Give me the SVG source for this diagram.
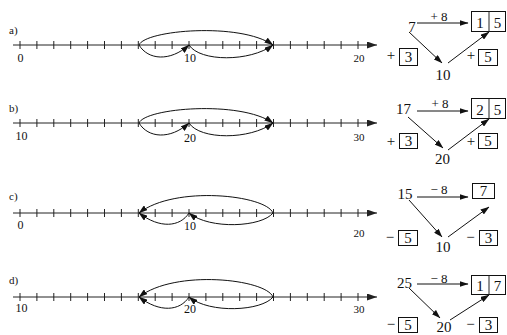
<svg xmlns="http://www.w3.org/2000/svg" width="507" height="335" viewBox="0 0 507 335">
<style>
text{font-family:"Liberation Serif","Times New Roman",serif;fill:#111}
.lab{font-size:11px}
.num{font-size:12px;text-anchor:middle}
.end{font-size:11px;text-anchor:middle}
.big{font-size:15px;text-anchor:middle}
.op{font-size:13px;text-anchor:middle}
.ax{stroke:#222;stroke-width:1;fill:none}
.tk{stroke:#222;stroke-width:1}
.arc{stroke:#111;stroke-width:1;fill:none;marker-end:url(#ah)}
.ln{stroke:#111;stroke-width:1;fill:none;marker-end:url(#ah2)}
.bx{fill:#fff;stroke:#111;stroke-width:1}
</style>
<defs>
<marker id="ah" viewBox="0 0 9 6" refX="8.5" refY="3" markerWidth="9" markerHeight="6" markerUnits="userSpaceOnUse" orient="auto"><path d="M0,0 L9,3 L0,6 z" fill="#111"/></marker>
<marker id="ah2" viewBox="0 0 9 6" refX="8.5" refY="3" markerWidth="9" markerHeight="6" markerUnits="userSpaceOnUse" orient="auto"><path d="M0,0 L9,3 L0,6 z" fill="#111"/></marker>
<marker id="axh" viewBox="0 0 10 7" refX="10" refY="3.5" markerWidth="10" markerHeight="7" markerUnits="userSpaceOnUse" orient="auto"><path d="M0,0 L10,3.5 L0,7 z" fill="#222"/></marker>
<g id="ticks">
<path class="tk" d="M20,-4V4M36.9,-4V4M53.8,-4V4M70.7,-4V4M87.6,-4V4M104.5,-4V4M121.4,-4V4M138.3,-4V4M155.2,-4V4M172.1,-4V4M189,-4V4M205.9,-4V4M222.8,-4V4M239.7,-4V4M256.6,-4V4M273.5,-4V4M290.4,-4V4M307.3,-4V4M324.2,-4V4M341.1,-4V4M358,-4V4"/>
<path class="ax" d="M13,0H377" marker-end="url(#axh)"/>
</g>
</defs>

<g id="row-a">
<text class="lab" x="9" y="34">a)</text>
<use href="#ticks" transform="translate(0,45)"/>
<text class="num" x="20.5" y="62">0</text>
<text class="num" x="190" y="62">10</text>
<text class="end" x="359" y="62">20</text>
</g>
<g id="row-b">
<text class="lab" x="9" y="112">b)</text>
<use href="#ticks" transform="translate(0,123)"/>
<text class="num" x="21.5" y="140">10</text>
<text class="num" x="190" y="142">20</text>
<text class="end" x="359" y="141">30</text>
</g>
<g id="row-c">
<text class="lab" x="9" y="200">c)</text>
<use href="#ticks" transform="translate(0,213)"/>
<text class="num" x="20.5" y="229">0</text>
<text class="num" x="190" y="230">10</text>
<text class="end" x="359" y="237">20</text>
</g>
<g id="row-d">
<text class="lab" x="9" y="284">d)</text>
<use href="#ticks" transform="translate(0,297)"/>
<text class="num" x="21.5" y="312">10</text>
<text class="num" x="190" y="313">20</text>
<text class="end" x="359" y="313">30</text>
</g>

<g id="connectors">
<path class="arc" d="M139,45 C145,30 240,22 273,45"/>
<path class="arc" d="M139,45 C148,60 170,62 189,45"/>
<path class="arc" d="M189,45 C200,62 250,62 273,45"/>
<path class="arc" d="M139,123 C145,108 240,100 273,123"/>
<path class="arc" d="M139,123 C148,138 170,140 189,123"/>
<path class="arc" d="M189,123 C200,140 250,140 273,123"/>
<path class="arc" d="M273,213 C266,195 175,185 139,213"/>
<path class="arc" d="M273,213 C262,227 210,230 189,213"/>
<path class="arc" d="M189,213 C180,227 160,229 139,213"/>
<path class="arc" d="M273,297 C266,279 175,269 139,297"/>
<path class="arc" d="M273,297 C262,311 210,314 189,297"/>
<path class="arc" d="M189,297 C180,311 160,313 139,297"/>
<path class="ln" d="M417,23H468"/>
<path class="ln" d="M409,32L442,63"/>
<path class="ln" d="M448,63L489,32"/>
<path class="ln" d="M417,111H468"/>
<path class="ln" d="M408,117L443,148"/>
<path class="ln" d="M448,150L489,119"/>
<path class="ln" d="M417,197H468"/>
<path class="ln" d="M409,200L442,237"/>
<path class="ln" d="M448,237L489,207"/>
<path class="ln" d="M417,284H468"/>
<path class="ln" d="M409,288L440,318"/>
<path class="ln" d="M450,320L489,295"/>
</g>

<g id="calc-a">
<text class="big" x="412" y="32">7</text>
<text class="op" x="439" y="21">+ 8</text>
<rect class="bx" x="471.5" y="11.5" width="34" height="20"/>
<line class="tk" x1="489" y1="11.5" x2="489" y2="31.5"/>
<text class="big" x="480" y="28">1</text>
<text class="big" x="497.5" y="28">5</text>
<text class="big" x="443" y="80">10</text>
<text class="big" x="391" y="60">+</text>
<rect class="bx" x="399.5" y="48.5" width="18" height="17"/>
<text class="big" x="408.5" y="62">3</text>
<text class="big" x="471" y="60">+</text>
<rect class="bx" x="478.5" y="49.5" width="19" height="16"/>
<text class="big" x="488" y="62">5</text>
</g>
<g id="calc-b">
<text class="big" x="403.5" y="114">17</text>
<text class="op" x="440" y="108">+ 8</text>
<rect class="bx" x="471.5" y="98.5" width="34" height="20"/>
<line class="tk" x1="489" y1="98.5" x2="489" y2="118.5"/>
<text class="big" x="480" y="115">2</text>
<text class="big" x="497.5" y="115">5</text>
<text class="big" x="442.5" y="164">20</text>
<text class="big" x="391" y="146">+</text>
<rect class="bx" x="399.5" y="133.5" width="18" height="15"/>
<text class="big" x="408.5" y="146">3</text>
<text class="big" x="471" y="146">+</text>
<rect class="bx" x="478.5" y="133.5" width="19" height="15"/>
<text class="big" x="488" y="146">5</text>
</g>
<g id="calc-c">
<text class="big" x="405" y="199">15</text>
<text class="op" x="439" y="194">− 8</text>
<rect class="bx" x="472.5" y="183.5" width="22" height="15"/>
<text class="big" x="483.5" y="196">7</text>
<text class="big" x="443" y="252">10</text>
<text class="big" x="390" y="242">−</text>
<rect class="bx" x="398.5" y="230.5" width="19" height="15"/>
<text class="big" x="408" y="243">5</text>
<text class="big" x="470.5" y="242">−</text>
<rect class="bx" x="479.5" y="230.5" width="18" height="15"/>
<text class="big" x="488.5" y="243">3</text>
</g>
<g id="calc-d">
<text class="big" x="404.5" y="288">25</text>
<text class="op" x="439" y="283">− 8</text>
<rect class="bx" x="471.5" y="275.5" width="34" height="19"/>
<line class="tk" x1="489" y1="275.5" x2="489" y2="294.5"/>
<text class="big" x="480" y="291">1</text>
<text class="big" x="497.5" y="291">7</text>
<text class="big" x="444" y="332">20</text>
<text class="big" x="391" y="329">−</text>
<rect class="bx" x="398.5" y="317.5" width="19" height="15"/>
<text class="big" x="408" y="330">5</text>
<text class="big" x="470.5" y="329">−</text>
<rect class="bx" x="479.5" y="317.5" width="18" height="15"/>
<text class="big" x="488.5" y="330">3</text>
</g>
</svg>
